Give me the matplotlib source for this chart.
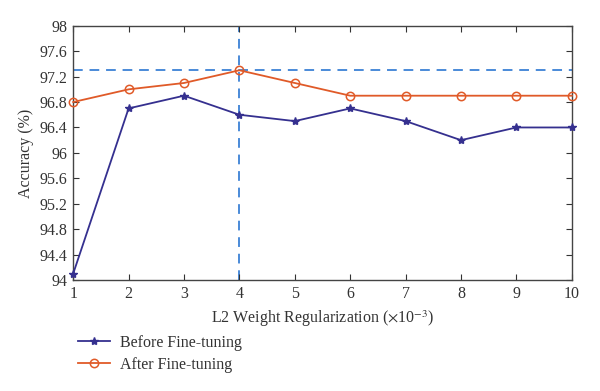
import matplotlib.pyplot as plt

plt.rcParams['font.family'] = ['Liberation Serif', 'DejaVu Serif']
plt.rcParams['mathtext.fontset'] = 'stix'

# Дані
l2_weight = [1, 2, 3, 4, 5, 6, 7, 8, 9, 10]
before_ft = [94.1, 96.7, 96.9, 96.6, 96.5, 96.7, 96.5, 96.2, 96.4, 96.4]
after_ft = [96.8, 97.0, 97.1, 97.3, 97.1, 96.9, 96.9, 96.9, 96.9, 96.9]
best_x = 4
best_acc = 97.3
y_ticks = [94, 94.4, 94.8, 95.2, 95.6, 96, 96.4, 96.8, 97.2, 97.6, 98]
y_labels = ['94', '94.4', '94.8', '95.2', '95.6', '96', '96.4', '96.8', '97.2', '97.6', '98']

fig = plt.figure(figsize=(6, 3.91), dpi=100)
ax = fig.add_axes([0.122, 0.284, 0.831, 0.650])

ax.axhline(best_acc, color='#4a8ad8', linestyle=(0, (5, 3.5)), linewidth=1.4, zorder=1)
ax.axvline(best_x, color='#4a8ad8', linestyle=(0, (5, 3.5)), linewidth=1.4, zorder=1)

ax.plot(l2_weight, before_ft, color='#35308f', marker='*', markersize=6,
        linewidth=1.3, label='Before Fine-tuning', clip_on=False, zorder=3)
ax.plot(l2_weight, after_ft, color='#e05a28', marker='o', markersize=6,
        markerfacecolor='none', markeredgewidth=1.1, linewidth=1.3,
        label='After Fine-tuning', clip_on=False, zorder=3)

ax.set_xlim(1, 10)
ax.set_ylim(94, 98)
ax.set_xticks(l2_weight)
ax.set_yticks(y_ticks)
ax.set_yticklabels(y_labels)
ax.tick_params(direction='in', top=True, right=True, labelsize=11.5,
               colors='#333333', length=4, width=0.8, pad=4)
for s in ax.spines.values():
    s.set_color('#444444')
    s.set_linewidth(1.0)

ax.set_xlabel(r'L2 Weight Regularization ($\times$10$^{-3}$)', fontsize=11.5,
              color='#333333', labelpad=5)
ax.set_ylabel('Accuracy (%)', fontsize=11.5, color='#333333')

leg = ax.legend(loc='upper left', bbox_to_anchor=(-0.003, -0.19), frameon=False,
                fontsize=11.5, handlelength=2.0, handletextpad=0.6,
                labelspacing=0.4, borderaxespad=0)
for t in leg.get_texts():
    t.set_color('#333333')

fig.savefig('out.png', dpi=100)
